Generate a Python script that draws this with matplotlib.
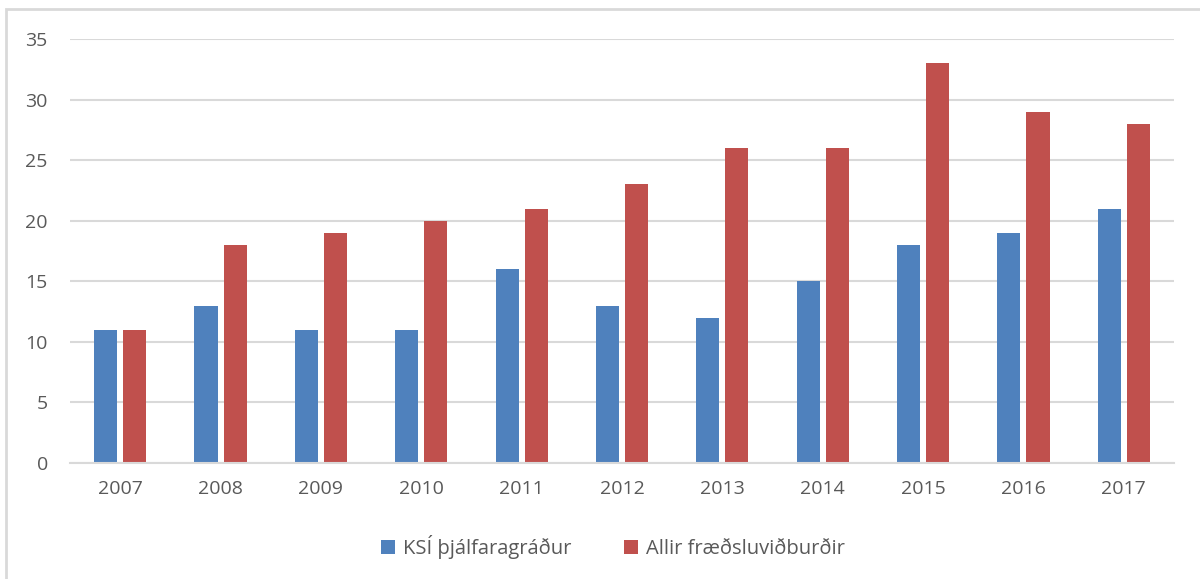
import numpy as np
import matplotlib.pyplot as plt
from matplotlib.patches import Rectangle

years = ['2007', '2008', '2009', '2010', '2011', '2012', '2013', '2014', '2015', '2016', '2017']
ksi = [11, 13, 11, 11, 16, 13, 12, 15, 18, 19, 21]
allir = [11, 18, 19, 20, 21, 23, 26, 26, 33, 29, 28]
labels = ['KSÍ þjálfaragráður', 'Allir fræðsluviðburðir']

blue = '#4f81bd'
red = '#c0504d'
txt = '#595959'
grid = '#d9d9d9'

plt.rcParams['font.family'] = ['Open Sans', 'DejaVu Sans']

fig = plt.figure(figsize=(12, 5.79), dpi=100)
ax = fig.add_axes([70/1200, 1 - 463/579, 1104/1200, 424/579])

x = np.arange(len(years))
w = 0.23
ax.bar(x - 0.145, ksi, width=w, color=blue, label=labels[0])
ax.bar(x + 0.145, allir, width=w, color=red, label=labels[1])

ax.set_xlim(-0.5, len(years) - 0.5)
ax.set_ylim(0, 35)
ax.set_yticks(range(0, 36, 5))
ax.set_xticks(x)
ax.set_xticklabels(years)
ax.yaxis.grid(True, color=grid, linewidth=1.5)
ax.set_axisbelow(True)
for s in ['top', 'right', 'left']:
    ax.spines[s].set_visible(False)
ax.spines['bottom'].set_color(grid)
ax.spines['bottom'].set_linewidth(1.5)
ax.tick_params(axis='both', length=0, labelsize=14, colors=txt)
ax.tick_params(axis='y', pad=16)
ax.tick_params(axis='x', pad=12)

fig.legend(loc='center', bbox_to_anchor=(0.511, 1 - 547/579), ncol=2, frameon=False,
           fontsize=14.5, labelcolor=txt, handlelength=0.7, handleheight=0.7,
           handletextpad=0.4, columnspacing=2.6)

# outer chart border
fig.patches.append(Rectangle((6/1200, -0.1), 1.2, 1 - 9/579 + 0.1, transform=fig.transFigure,
                             fill=False, edgecolor=grid, linewidth=2))

fig.savefig('out.png', dpi=100)
